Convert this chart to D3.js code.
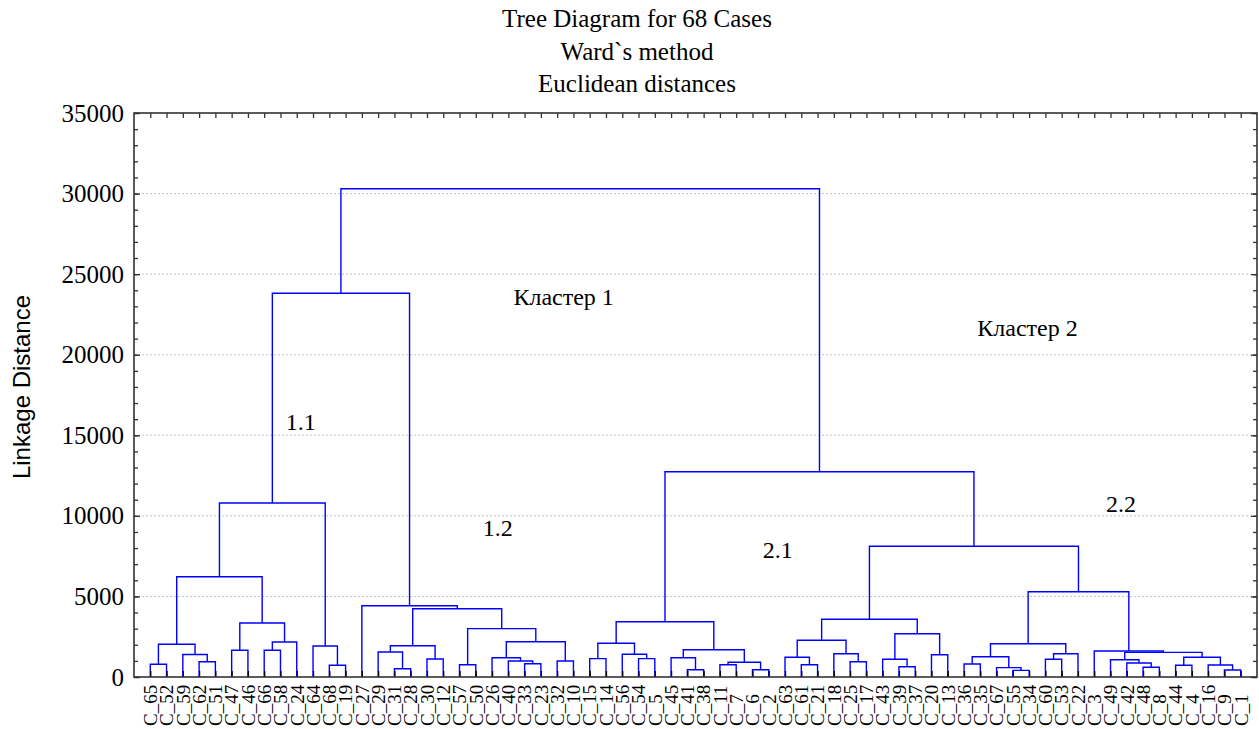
<!DOCTYPE html>
<html>
<head>
<meta charset="utf-8">
<script src="https://cdn.jsdelivr.net/npm/d3@7"></script>
<style>
  html, body { margin: 0; padding: 0; background: #fff; }
  svg { display: block; }
</style>
</head>
<body>
<svg id="chart" width="1259" height="729"></svg>
<script>
// ---------------- DATA ----------------
const titleLines = ["Tree Diagram for 68 Cases", "Ward`s method", "Euclidean distances"];
const yAxisTitle = "Linkage Distance";

// leaf order as drawn on the horizontal axis
const leaves = [
  "C_65","C_52","C_59","C_62","C_51","C_47","C_46","C_66","C_58","C_24",
  "C_64","C_68","C_19","C_27","C_29","C_31","C_28","C_30","C_12","C_57",
  "C_50","C_26","C_40","C_33","C_23","C_32","C_10","C_15","C_14","C_56",
  "C_54","C_5","C_45","C_41","C_38","C_11","C_7","C_6","C_2","C_63",
  "C_61","C_21","C_18","C_25","C_17","C_43","C_39","C_37","C_20","C_13",
  "C_36","C_35","C_67","C_55","C_34","C_60","C_53","C_22","C_3","C_49",
  "C_42","C_48","C_8","C_44","C_4","C_16","C_9","C_1"
];

// merge steps: [left, right, linkage distance]
// a string is a leaf, a number n refers to the n-th merge (1-based)
const merges = [
  ["C_65","C_52",790],   // 1
  ["C_62","C_51",950],   // 2
  ["C_59",2,1400],       // 3
  [1,3,2030],            // 4
  ["C_47","C_46",1660],  // 5
  ["C_66","C_58",1660],  // 6
  [6,"C_24",2170],       // 7
  [5,7,3350],            // 8
  [4,8,6225],            // 9
  ["C_68","C_19",726],   // 10
  ["C_64",10,1924],      // 11
  [9,11,10800],          // 12
  ["C_31","C_28",515],   // 13
  ["C_29",13,1551],      // 14
  ["C_30","C_12",1117],  // 15
  [14,15,1943],          // 16
  ["C_57","C_50",763],   // 17
  ["C_33","C_23",825],   // 18
  ["C_40",18,993],       // 19
  ["C_26",19,1198],      // 20
  ["C_32","C_10",993],   // 21
  [20,21,2191],          // 22
  [17,22,3000],          // 23
  [16,23,4239],          // 24
  ["C_27",24,4425],      // 25
  [12,25,23811],         // 26
  ["C_15","C_14",1138],  // 27
  ["C_54","C_5",1138],   // 28
  ["C_56",28,1409],      // 29
  [27,29,2091],          // 30
  ["C_41","C_38",453],   // 31
  ["C_45",31,1198],      // 32
  ["C_11","C_7",763],    // 33
  ["C_6","C_2",453],     // 34
  [33,34,912],           // 35
  [32,35,1694],          // 36
  [30,36,3432],          // 37
  ["C_61","C_21",763],   // 38
  ["C_63",38,1223],      // 39
  ["C_25","C_17",950],   // 40
  ["C_18",40,1446],      // 41
  [39,41,2278],          // 42
  ["C_39","C_37",639],   // 43
  ["C_43",43,1098],      // 44
  ["C_20","C_13",1384],  // 45
  [44,45,2687],          // 46
  [42,46,3581],          // 47
  ["C_36","C_35",807],   // 48
  ["C_55","C_34",414],   // 49
  ["C_67",49,579],       // 50
  [48,50,1260],          // 51
  ["C_60","C_53",1098],  // 52
  [52,"C_22",1446],      // 53
  [51,53,2067],          // 54
  ["C_9","C_1",434],     // 55
  ["C_16",55,745],       // 56
  ["C_44","C_4",726],    // 57
  [57,56,1223],          // 58
  ["C_48","C_8",602],    // 59
  ["C_42",59,869],       // 60
  ["C_49",60,1074],      // 61
  [61,58,1530],          // 62
  ["C_3",62,1614],       // 63
  [54,63,5294],          // 64
  [47,64,8111],          // 65
  [37,65,12741],         // 66
  [26,66,30303]          // 67
];

const yTicks = [0, 5000, 10000, 15000, 20000, 25000, 30000, 35000];
const yMinorTicks = d3.range(0, 35001, 1000);

// annotation labels placed in the plot: [text, leaf-position, distance]
const annotations = [
  ["Кластер 1", 26.4, 23100],
  ["Кластер 2", 54.9, 21150],
  ["1.1", 10.25, 15300],
  ["1.2", 22.35, 8730],
  ["2.1", 39.55, 7360],
  ["2.2", 60.65, 10230]
];

// ---------------- LAYOUT ----------------
const W = 1259, H = 729;
const plot = { left: 134, right: 1257, top: 113, bottom: 677 };
const serif = "'Liberation Serif', 'Times New Roman', serif";
const sans = "'Liberation Sans', Arial, sans-serif";

const svg = d3.select("#chart");

const x = d3.scaleLinear().domain([0, leaves.length + 1]).range([plot.left, plot.right]);
const y = d3.scaleLinear().domain([0, 35000]).range([plot.bottom, plot.top]);

// build tree
const leafNode = {};
leaves.forEach((name, i) => { leafNode[name] = { pos: i + 1, h: 0 }; });
const mNodes = [];
const node = k => (typeof k === "number" ? mNodes[k - 1] : leafNode[k]);
merges.forEach(([a, b, h]) => {
  const l = node(a), r = node(b);
  mNodes.push({ pos: (l.pos + r.pos) / 2, h, l, r });
});

// title
svg.append("g").selectAll("text").data(titleLines).join("text")
  .attr("x", 637).attr("y", (d, i) => 27 + i * 32.5)
  .attr("text-anchor", "middle")
  .style("font-family", serif).style("font-size", "25px").style("fill", "#000")
  .text(d => d);

// gridlines
svg.append("g").selectAll("line").data(yTicks.filter(v => v > 0 && v < 35000)).join("line")
  .attr("x1", plot.left).attr("x2", plot.right)
  .attr("y1", d => y(d)).attr("y2", d => y(d))
  .attr("stroke", "#c4c4c4").attr("stroke-width", 1).attr("stroke-dasharray", "2,2");

// dendrogram
svg.append("g").selectAll("path").data(mNodes).join("path")
  .attr("d", m => `M${x(m.l.pos)},${y(m.l.h)}V${y(m.h)}H${x(m.r.pos)}V${y(m.r.h)}`)
  .attr("fill", "none").attr("stroke", "#0000ff").attr("stroke-width", 1.4);

// axes
const axisColor = "#333";
function styleAxis(g) {
  g.select(".domain").remove();
  g.selectAll(".tick line").attr("stroke", axisColor).attr("stroke-width", 1.3);
}

// left
const gl = svg.append("g").attr("transform", `translate(${plot.left},0)`)
  .call(d3.axisLeft(y).tickValues(yMinorTicks).tickSize(-4).tickFormat(""));
styleAxis(gl);
const glm = svg.append("g").attr("transform", `translate(${plot.left},0)`)
  .call(d3.axisLeft(y).tickValues(yTicks).tickSize(-6).tickPadding(10).tickFormat(d3.format("d")));
styleAxis(glm);
glm.selectAll("text").style("font-family", serif).style("font-size", "25px").style("fill", "#000");

// right
const gr = svg.append("g").attr("transform", `translate(${plot.right},0)`)
  .call(d3.axisRight(y).tickValues(yMinorTicks).tickSize(-4).tickFormat(""));
styleAxis(gr);
const grm = svg.append("g").attr("transform", `translate(${plot.right},0)`)
  .call(d3.axisRight(y).tickValues(yTicks).tickSize(-6).tickFormat(""));
styleAxis(grm);

// top
const gt = svg.append("g").attr("transform", `translate(0,${plot.top})`)
  .call(d3.axisTop(x).tickValues(d3.range(1, leaves.length + 1)).tickSize(-5).tickFormat(""));
styleAxis(gt);

// bottom
const gb = svg.append("g").attr("transform", `translate(0,${plot.bottom})`)
  .call(d3.axisBottom(x).tickValues(d3.range(1, leaves.length + 1)).tickSize(-6)
    .tickFormat(i => leaves[i - 1]));
styleAxis(gb);
gb.selectAll(".tick line").attr("stroke", "#000");
gb.selectAll("text")
  .attr("transform", "rotate(-90)")
  .attr("x", -(H - 3 - plot.bottom)).attr("y", 0).attr("dy", "0.33em")
  .attr("text-anchor", "start")
  .style("font-family", serif).style("font-size", "19px").style("fill", "#000");

// frame
svg.append("rect")
  .attr("x", plot.left).attr("y", plot.top)
  .attr("width", plot.right - plot.left).attr("height", plot.bottom - plot.top)
  .attr("fill", "none").attr("stroke", axisColor).attr("stroke-width", 1.6);

// y axis title
svg.append("text")
  .attr("transform", `translate(30,${(plot.top + plot.bottom) / 2 - 8}) rotate(-90)`)
  .attr("text-anchor", "middle")
  .style("font-family", sans).style("font-size", "24px").style("fill", "#000")
  .text(yAxisTitle);

// annotations
svg.append("g").selectAll("text").data(annotations).join("text")
  .attr("x", d => x(d[1])).attr("y", d => y(d[2]))
  .attr("text-anchor", "middle")
  .style("font-family", serif).style("font-size", "24px").style("fill", "#000")
  .text(d => d[0]);
</script>
</body>
</html>
